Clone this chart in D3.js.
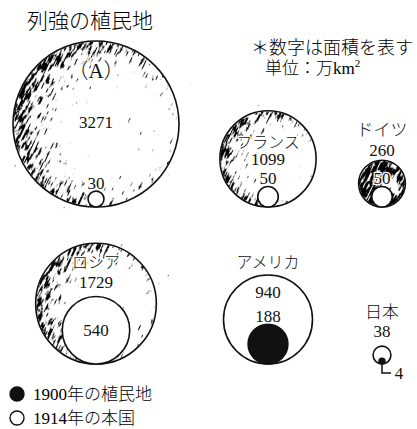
<!DOCTYPE html>
<html>
<head>
<meta charset="utf-8">
<script src="https://cdn.jsdelivr.net/npm/d3@7"></script>
<style>
  body { margin: 0; background: #fff; }
  svg { display: block; }
</style>
</head>
<body>
<div id="chart"></div>
<script>
(function () {
  // 面積（万km²）
  const names = ['（A）', 'フランス', 'ドイツ', 'ロシア', 'アメリカ', '日本'];
  const colonyArea = [3271, 1099, 260, 1729, 188, 4];
  const homeArea = [30, 50, 50, 540, 940, 38];
  const legendLabels = ['1900年の植民地', '1914年の本国'];

  const width = 417;
  const height = 429;
  const font = '"Liberation Serif", "Noto Sans CJK JP", serif';

  // where each country sits and how its labels are placed
  // nameDy / valueDy: baseline offset from the top of the outer circle
  // inner: 'above' = label just above the inner circle, 'center' = inside it, 'leader' = pointer line
  const layout = [
    { col: 0, row: 0, nameDy: 37, nameSize: 21, valueDy: 87, inner: 'above', tex: 'edge' },
    { col: 1, row: 0, nameDy: 37, nameSize: 16, valueDy: 54, inner: 'above', tex: 'edge' },
    { col: 2, row: 0, nameDy: -24, nameSize: 17, valueDy: -4, inner: 'above', tex: 'dense' },
    { col: 0, row: 1, nameDy: 25, nameSize: 16, valueDy: 45, inner: 'center', tex: 'edge' },
    { col: 1, row: 1, nameDy: -7, nameSize: 16, valueDy: 23, inner: 'above', tex: null },
    { col: 2, row: 1, nameDy: -28, nameSize: 17, valueDy: -9, inner: 'leader', tex: null }
  ];

  const colX = d3.scaleOrdinal().domain([0, 1, 2]).range([96, 268, 382]);
  const rowBottom = d3.scaleOrdinal().domain([0, 1]).range([207, 364]);
  const r = d3.scaleSqrt()
    .domain([0, d3.max(colonyArea.concat(homeArea))])
    .range([0, 83]);

  const svg = d3.select('#chart')
    .append('svg')
    .attr('width', width)
    .attr('height', height);

  // scanned-print look for the colony circles
  const defs = svg.append('defs');

  const filter = defs.append('filter')
    .attr('id', 'grain')
    .attr('x', '-5%').attr('y', '-5%')
    .attr('width', '110%').attr('height', '110%');
  filter.append('feTurbulence')
    .attr('type', 'fractalNoise')
    .attr('baseFrequency', '0.45 0.09')
    .attr('numOctaves', 4)
    .attr('seed', 11)
    .attr('result', 'noise');
  filter.append('feColorMatrix')
    .attr('in', 'noise')
    .attr('type', 'matrix')
    .attr('values', '0 0 0 0 0  0 0 0 0 0  0 0 0 0 0  1 0 0 0 0')
    .attr('result', 'nalpha');
  filter.append('feComposite')
    .attr('in', 'SourceGraphic')
    .attr('in2', 'nalpha')
    .attr('operator', 'arithmetic')
    .attr('k1', 0).attr('k2', 4.6).attr('k3', 9).attr('k4', -7.6);

  function gradient(id, stops) {
    const g = defs.append('radialGradient')
      .attr('id', id)
      .attr('cx', '0.56').attr('cy', '0.5')
      .attr('fx', '0.7').attr('fy', '0.46')
      .attr('r', '0.6');
    stops.forEach(function (s) {
      g.append('stop')
        .attr('offset', s[0])
        .attr('stop-color', '#000')
        .attr('stop-opacity', s[1]);
    });
  }
  gradient('edge', [[0, 0], [0.5, 0.1], [0.78, 0.55], [1, 1]]);
  gradient('dense', [[0, 0.45], [0.35, 0.7], [0.7, 0.95], [1, 1]]);

  // title and notes
  svg.append('text')
    .text('列強の植民地')
    .attr('x', 27)
    .attr('y', 28)
    .style('font-family', font)
    .style('font-size', '21px')
    .style('font-weight', 300);

  svg.append('text')
    .text('＊数字は面積を表す')
    .attr('x', 251)
    .attr('y', 54)
    .style('font-family', font)
    .style('font-size', '18px')
    .style('font-weight', 300);

  const unit = svg.append('text')
    .attr('x', 265)
    .attr('y', 74)
    .style('font-family', font)
    .style('font-size', '17px')
    .style('font-weight', 300);
  unit.append('tspan').text('単位：万km');
  unit.append('tspan').text('2')
    .attr('dy', -7)
    .style('font-size', '11px');

  function label(g, text, x, y, size) {
    return g.append('text')
      .text(text)
      .attr('x', x)
      .attr('y', y)
      .style('font-family', font)
      .style('font-size', (size || 17) + 'px')
      .style('font-weight', 300)
      .style('text-anchor', 'middle')
      .style('stroke', '#fff')
      .style('stroke-width', 2.5)
      .style('stroke-linejoin', 'round')
      .style('paint-order', 'stroke')
      .style('fill', '#111');
  }

  const countries = names.map(function (name, i) {
    return { name: name, colony: colonyArea[i], home: homeArea[i], lay: layout[i] };
  });

  countries.forEach(function (d) {
    const outerIsColony = d.colony >= d.home;
    const big = Math.max(d.colony, d.home);
    const small = Math.min(d.colony, d.home);
    const cx = colX(d.lay.col);
    const bottom = rowBottom(d.lay.row);
    const R = r(big);
    const rr = r(small);
    const top = bottom - 2 * R;
    const innerTop = bottom - 2 * rr;

    const g = svg.append('g').attr('class', 'country');

    g.append('circle')
      .attr('cx', cx)
      .attr('cy', bottom - R)
      .attr('r', R)
      .attr('fill', '#fff')
      .attr('stroke', '#111')
      .attr('stroke-width', 1.6);

    if (d.lay.tex) {
      // tilt the grain so the streaks lean like the print
      g.append('g')
        .attr('transform', 'rotate(25,' + cx + ',' + (bottom - R) + ')')
        .append('circle')
        .attr('cx', cx)
        .attr('cy', bottom - R)
        .attr('r', R - 0.5)
        .attr('fill', 'url(#' + d.lay.tex + ')')
        .attr('filter', 'url(#grain)');
    }

    g.append('circle')
      .attr('cx', cx)
      .attr('cy', bottom - rr)
      .attr('r', rr)
      .attr('fill', outerIsColony ? '#fff' : '#111')
      .attr('stroke', '#111')
      .attr('stroke-width', 1.6);

    label(g, d.name, cx, top + d.lay.nameDy, d.lay.nameSize);
    label(g, big, cx, top + d.lay.valueDy);

    if (d.lay.inner === 'above') {
      label(g, small, cx, innerTop - 2);
    } else if (d.lay.inner === 'center') {
      label(g, small, cx, bottom - rr + 6);
    } else {
      g.append('path')
        .attr('d', 'M' + cx + ',' + (bottom - rr) + 'V' + (bottom + 9) + 'H' + (cx + 9))
        .attr('fill', 'none')
        .attr('stroke', '#111')
        .attr('stroke-width', 1.5);
      label(g, small, cx + 17, bottom + 15);
    }
  });

  // legend
  const legend = svg.append('g')
    .attr('class', 'legend')
    .attr('transform', 'translate(17, 394)');

  legend.selectAll('circle')
    .data(legendLabels)
    .enter()
    .append('circle')
    .attr('cx', 0)
    .attr('cy', function (d, i) { return i * 24; })
    .attr('r', 7)
    .attr('fill', function (d, i) { return i === 0 ? '#111' : '#fff'; })
    .attr('stroke', '#111')
    .attr('stroke-width', 1.4);

  legend.selectAll('text')
    .data(legendLabels)
    .enter()
    .append('text')
    .text(function (d) { return d; })
    .attr('x', 16)
    .attr('y', function (d, i) { return i * 24 + 6; })
    .style('font-family', font)
    .style('font-size', '17px')
    .style('font-weight', 300);
}());
</script>
</body>
</html>
